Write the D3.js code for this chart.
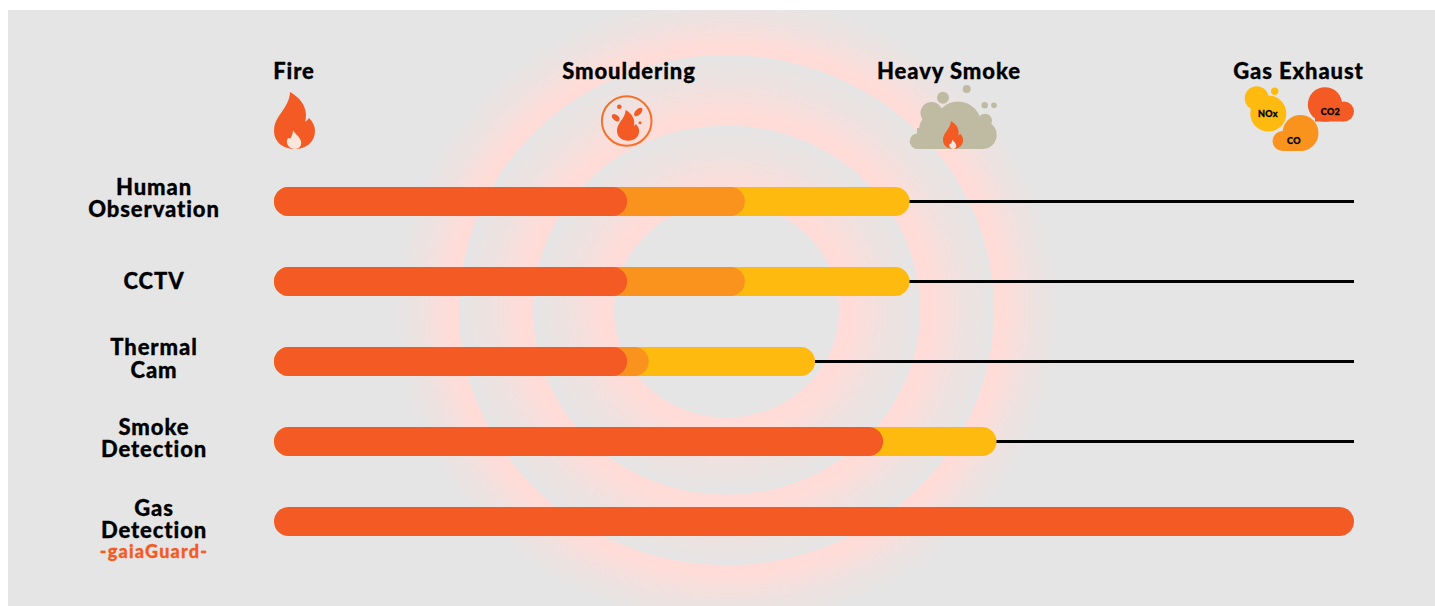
<!DOCTYPE html>
<html>
<head>
<meta charset="utf-8">
<script src="https://cdn.jsdelivr.net/npm/d3@7"></script>
<style>
  html, body { margin: 0; padding: 0; background: #fff; }
  svg { display: block; }
  text { font-family: Lato, sans-serif; font-weight: 900; letter-spacing: 0.9px; stroke: currentColor; stroke-width: 0.3px; }
</style>
</head>
<body>
<div id="chart"></div>
<script>
// Detection methods, top to bottom
const methods = ['Human Observation', 'CCTV', 'Thermal Cam', 'Smoke Detection', 'Gas Detection'];
const methodLines = [['Human', 'Observation'], ['CCTV'], ['Thermal', 'Cam'], ['Smoke', 'Detection'], ['Gas', 'Detection']];

// How far each method reaches, % of the fire timeline
const redValues = [32.7, 32.7, 32.7, 56.4, 100];
const orangeValues = [43.6, 43.6, 34.7, 0, 0];
const yellowValues = [58.85, 58.85, 50.1, 66.9, 0];

// Fire stages along the top, same % scale
const stages = ['Fire', 'Smouldering', 'Heavy Smoke', 'Gas Exhaust'];
const stagePositions = [1.85, 32.87, 62.5, 94.86];

const RED = '#f45a24', ORANGE = '#f9931e', YELLOW = '#ffba10', GREY = '#e5e5e5', PINK = '#ffdcd8', SMOKE = '#bfbba3';
const W = 1435, H = 606;

const svg = d3.select('#chart').append('svg').attr('width', W).attr('height', H);
const defs = svg.append('defs');

// Background panel
svg.append('rect').attr('x', 8).attr('y', 10).attr('width', W - 8).attr('height', H - 10).attr('fill', GREY);
defs.append('clipPath').attr('id', 'panel').append('rect')
  .attr('x', 8).attr('y', 10).attr('width', W - 8).attr('height', H - 10);

// Backdrop rings, pink at the inside edge and fading out to grey
const rings = [{ rx: 332, ry: 316, inner: 267.5 }, { rx: 267.5, ry: 255, inner: 193.5 }, { rx: 193.5, ry: 184.5, inner: 112.5 }];
const ringG = svg.append('g').attr('clip-path', 'url(#panel)');
rings.forEach((r, i) => {
  const t = r.inner / r.rx;
  const grad = defs.append('radialGradient').attr('id', `ring${i}`);
  grad.append('stop').attr('offset', t).attr('stop-color', PINK);
  grad.append('stop').attr('offset', t + (1 - t) * 0.15).attr('stop-color', PINK);
  grad.append('stop').attr('offset', t + (1 - t) * 0.6).attr('stop-color', '#eee2e0');
  grad.append('stop').attr('offset', 1).attr('stop-color', GREY);
  ringG.append('ellipse').attr('cx', 726.5).attr('cy', 310).attr('rx', r.rx).attr('ry', r.ry)
    .attr('fill', `url(#ring${i})`);
});
ringG.append('ellipse').attr('cx', 726.5).attr('cy', 310).attr('rx', 112.5).attr('ry', 107.5).attr('fill', GREY);

// Scales
const x = d3.scaleLinear().domain([0, 100]).range([274, 1354]);
const y = d3.scalePoint().domain(methods).range([201.5, 521.5]);
const barH = 29;

// Black lines running on from the end of each bar
svg.selectAll('.reach-line')
  .data(methods.filter((m, i) => yellowValues[i] > 0))
  .enter()
  .append('line')
  .attr('class', 'reach-line')
  .attr('x1', d => x(yellowValues[methods.indexOf(d)]) - 5)
  .attr('x2', x(100))
  .attr('y1', d => y(d))
  .attr('y2', d => y(d))
  .attr('stroke', '#000')
  .attr('stroke-width', 3);

// Bars, longest drawn first so the shorter ones sit on top
[[yellowValues, YELLOW, 'yellow'], [orangeValues, ORANGE, 'orange'], [redValues, RED, 'red']].forEach(([values, color, name]) => {
  svg.selectAll(`.bar-${name}`)
    .data(methods.filter((m, i) => values[i] > 0))
    .enter()
    .append('rect')
    .attr('class', `bar-${name}`)
    .attr('x', x(0))
    .attr('y', d => y(d) - barH / 2)
    .attr('width', d => x(values[methods.indexOf(d)]) - x(0))
    .attr('height', barH)
    .attr('rx', barH / 2)
    .attr('fill', color);
});

// Row labels
const labelBaselines = [[195, 217], [289], [355, 378], [435, 457], [516, 538]];
methodLines.forEach((lines, i) => {
  const label = svg.append('text')
    .attr('text-anchor', 'middle')
    .style('font-size', '22px')
    .style('color', '#000');
  lines.forEach((line, j) => {
    label.append('tspan').attr('x', 154).attr('y', labelBaselines[i][j]).text(line);
  });
  if (i === methodLines.length - 1) {
    label.append('tspan')
      .attr('x', 154).attr('y', 558)
      .style('font-size', '18px')
      .style('letter-spacing', '1.2px')
      .style('color', RED)
      .attr('fill', RED)
      .text('-gaiaGuard-');
  }
});

// Stage headers
svg.selectAll('.stage')
  .data(stages)
  .enter()
  .append('text')
  .attr('class', 'stage')
  .attr('x', (d, i) => x(stagePositions[i]))
  .attr('y', 79)
  .attr('text-anchor', 'middle')
  .style('font-size', '22px')
  .style('color', '#000')
  .text(d => d);

// Flame, drawn in a 41 x 58 box
const flameOuter = 'M16 0C27 6 35 17 31 31C31 32 29 33 28 32C30 31 33 29 35 26C39 30 41 34 41 39C41 50 32 57 21 57C9 57 0 50 0 39C0 28 7 22 11 15C14 10 16 5 16 0Z';
const flameInner = 'M19 38C20 41 24 43 26 47C29 52 26 57 21 57C16 57 12 53 13 48C14 46 15 45 16 47C18 44 19 41 19 38Z';
function flame(g, tx, ty, s, inner) {
  const f = g.append('g').attr('transform', `translate(${tx},${ty}) scale(${s})`);
  f.append('path').attr('d', flameOuter).attr('fill', RED);
  if (inner) f.append('path').attr('d', flameInner).attr('fill', inner);
}
function blobs(g, list, color) {
  g.selectAll(null).data(list).enter().append('circle')
    .attr('cx', d => d[0]).attr('cy', d => d[1]).attr('r', d => d[2]).attr('fill', color);
}
const icons = svg.append('g');

// Fire icon
flame(icons, 274, 92, 1, '#fbe6dc');

// Smouldering icon
icons.append('circle').attr('cx', 626.7).attr('cy', 121).attr('r', 24.8)
  .attr('fill', 'none').attr('stroke', '#f5702a').attr('stroke-width', 2);
flame(icons, 617, 110, 0.54, null);
blobs(icons, [[619.3, 106.7, 2.3], [640, 122.7, 1.5]], RED);
icons.append('ellipse').attr('rx', 4.4).attr('ry', 2.8).attr('fill', RED)
  .attr('transform', 'translate(615.7,117.7) rotate(40)');
icons.append('ellipse').attr('rx', 5.2).attr('ry', 2.8).attr('fill', RED)
  .attr('transform', 'translate(638.3,112) rotate(-45)');

// Heavy smoke icon
blobs(icons, [[917.5, 141.2, 7.8], [982.7, 135, 14], [958, 125, 23.5], [931.5, 113, 11], [938, 130, 19], [985, 120.7, 7],
  [943, 97.7, 6], [966.7, 89, 4], [984.7, 105.3, 3.2], [994, 105.3, 2.8]], SMOKE);
icons.append('rect').attr('x', 917).attr('y', 128).attr('width', 66).attr('height', 21).attr('fill', SMOKE);
flame(icons, 943, 121, 0.49, '#eee6df');

// Gas exhaust icon
blobs(icons, [[1268.3, 113.5, 18], [1256.7, 98.3, 12], [1274.7, 91.3, 3.7]], YELLOW);
blobs(icons, [[1325, 104.5, 17.2], [1344, 111.5, 10]], RED);
icons.append('rect').attr('x', 1315).attr('y', 105).attr('width', 29).attr('height', 16.5).attr('fill', RED);
blobs(icons, [[1300.5, 133, 18], [1282.5, 141, 10]], ORANGE);
icons.append('rect').attr('x', 1283).attr('y', 133).attr('width', 20).attr('height', 18).attr('fill', ORANGE);

[['NOx', 1268, 116.5], ['CO2', 1330.5, 115], ['CO', 1294, 144]].forEach(([t, tx, ty]) => {
  icons.append('text').attr('x', tx).attr('y', ty).attr('text-anchor', 'middle')
    .style('font-size', '9px').style('letter-spacing', '0.4px').style('color', '#000').text(t);
});
</script>
</body>
</html>
